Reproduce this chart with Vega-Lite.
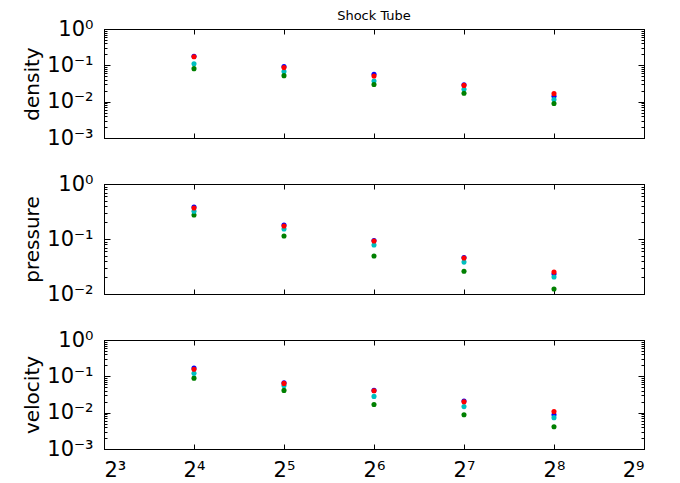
{
  "$schema": "https://vega.github.io/schema/vega-lite/v6.json",
  "background": "white",
  "padding": {"left": 22, "top": 9, "right": 5, "bottom": 0},
  "config": {
    "font": "DejaVu Sans",
    "view": {"stroke": "black", "strokeWidth": 1},
    "axis": {"domainColor": "black", "tickColor": "black", "labelColor": "black", "titleColor": "black", "grid": false, "labelFont": "DejaVu Sans", "titleFont": "DejaVu Sans"}
  },
  "datasets": {
    "pts": [
      {"panel": "density", "n": 16, "s": "b", "v": 0.178},
      {"panel": "density", "n": 16, "s": "g", "v": 0.081},
      {"panel": "density", "n": 16, "s": "c", "v": 0.111},
      {"panel": "density", "n": 16, "s": "r", "v": 0.173},
      {"panel": "density", "n": 32, "s": "b", "v": 0.093},
      {"panel": "density", "n": 32, "s": "g", "v": 0.052},
      {"panel": "density", "n": 32, "s": "c", "v": 0.0676},
      {"panel": "density", "n": 32, "s": "r", "v": 0.0865},
      {"panel": "density", "n": 64, "s": "b", "v": 0.057},
      {"panel": "density", "n": 64, "s": "g", "v": 0.0298},
      {"panel": "density", "n": 64, "s": "c", "v": 0.037},
      {"panel": "density", "n": 64, "s": "r", "v": 0.051},
      {"panel": "density", "n": 128, "s": "b", "v": 0.029},
      {"panel": "density", "n": 128, "s": "g", "v": 0.017},
      {"panel": "density", "n": 128, "s": "c", "v": 0.0218},
      {"panel": "density", "n": 128, "s": "r", "v": 0.028},
      {"panel": "density", "n": 256, "s": "b", "v": 0.014},
      {"panel": "density", "n": 256, "s": "g", "v": 0.0089},
      {"panel": "density", "n": 256, "s": "c", "v": 0.0114},
      {"panel": "density", "n": 256, "s": "r", "v": 0.0166},
      {"panel": "pressure", "n": 16, "s": "b", "v": 0.38},
      {"panel": "pressure", "n": 16, "s": "g", "v": 0.273},
      {"panel": "pressure", "n": 16, "s": "c", "v": 0.32},
      {"panel": "pressure", "n": 16, "s": "r", "v": 0.366},
      {"panel": "pressure", "n": 32, "s": "b", "v": 0.18},
      {"panel": "pressure", "n": 32, "s": "g", "v": 0.1135},
      {"panel": "pressure", "n": 32, "s": "c", "v": 0.152},
      {"panel": "pressure", "n": 32, "s": "r", "v": 0.172},
      {"panel": "pressure", "n": 64, "s": "b", "v": 0.094},
      {"panel": "pressure", "n": 64, "s": "g", "v": 0.049},
      {"panel": "pressure", "n": 64, "s": "c", "v": 0.078},
      {"panel": "pressure", "n": 64, "s": "r", "v": 0.092},
      {"panel": "pressure", "n": 128, "s": "b", "v": 0.046},
      {"panel": "pressure", "n": 128, "s": "g", "v": 0.026},
      {"panel": "pressure", "n": 128, "s": "c", "v": 0.038},
      {"panel": "pressure", "n": 128, "s": "r", "v": 0.045},
      {"panel": "pressure", "n": 256, "s": "b", "v": 0.023},
      {"panel": "pressure", "n": 256, "s": "g", "v": 0.0123},
      {"panel": "pressure", "n": 256, "s": "c", "v": 0.0204},
      {"panel": "pressure", "n": 256, "s": "r", "v": 0.025},
      {"panel": "velocity", "n": 16, "s": "b", "v": 0.17},
      {"panel": "velocity", "n": 16, "s": "g", "v": 0.089},
      {"panel": "velocity", "n": 16, "s": "c", "v": 0.121},
      {"panel": "velocity", "n": 16, "s": "r", "v": 0.156},
      {"panel": "velocity", "n": 32, "s": "b", "v": 0.066},
      {"panel": "velocity", "n": 32, "s": "g", "v": 0.041},
      {"panel": "velocity", "n": 32, "s": "c", "v": 0.056},
      {"panel": "velocity", "n": 32, "s": "r", "v": 0.064},
      {"panel": "velocity", "n": 64, "s": "b", "v": 0.041},
      {"panel": "velocity", "n": 64, "s": "g", "v": 0.0167},
      {"panel": "velocity", "n": 64, "s": "c", "v": 0.028},
      {"panel": "velocity", "n": 64, "s": "r", "v": 0.040},
      {"panel": "velocity", "n": 128, "s": "b", "v": 0.021},
      {"panel": "velocity", "n": 128, "s": "g", "v": 0.0088},
      {"panel": "velocity", "n": 128, "s": "c", "v": 0.0147},
      {"panel": "velocity", "n": 128, "s": "r", "v": 0.020},
      {"panel": "velocity", "n": 256, "s": "b", "v": 0.0088},
      {"panel": "velocity", "n": 256, "s": "g", "v": 0.0041},
      {"panel": "velocity", "n": 256, "s": "c", "v": 0.0073},
      {"panel": "velocity", "n": 256, "s": "r", "v": 0.0107}
    ]
  },
  "spacing": 23,
  "vconcat": [
    {
      "width": 540, "height": 109,
      "title": {"text": "Shock Tube", "fontSize": 13, "fontWeight": "normal", "font": "DejaVu Sans", "offset": -5},
      "data": {"name": "pts"},
      "transform": [{"filter": "datum.panel == 'density'"}],
      "resolve": {"axis": {"x": "independent", "y": "independent"}},
      "layer": [
        {
          "mark": {"type": "point", "filled": true, "size": 26, "opacity": 1},
          "encoding": {
            "x": {"field": "n", "type": "quantitative", "scale": {"type": "log", "base": 2, "domain": [8, 512], "nice": false},
                  "axis": {"values": [8, 16, 32, 64, 128, 256, 512], "labels": false, "title": null, "tickSize": -5}},
            "y": {"field": "v", "type": "quantitative", "scale": {"type": "log", "domain": [0.001, 1], "nice": false},
                  "axis": {"values": [0.001, 0.01, 0.1, 1], "title": "density", "titleFontSize": 20, "titleFontWeight": "normal", "titlePadding": 4, "labelFontSize": 21, "tickSize": -6, "labelPadding": 17,
                           "labelExpr": "datum.value >= 1 ? '10⁰' : datum.value >= 0.1 ? '10⁻¹' : datum.value >= 0.01 ? '10⁻²' : '10⁻³'"}},
            "color": {"field": "s", "type": "nominal", "legend": null, "scale": {"domain": ["b", "g", "c", "r"], "range": ["#0000ff", "#008000", "#00bfbf", "#ff0000"]}},
            "order": {"field": "s", "sort": "ascending"}
          }
        },
        {
          "mark": {"type": "point", "opacity": 0},
          "encoding": {
            "x": {"field": "n", "type": "quantitative", "axis": {"orient": "top", "values": [8, 16, 32, 64, 128, 256, 512], "labels": false, "title": null, "tickSize": -5}},
            "y": {"field": "v", "type": "quantitative", "axis": {"orient": "right", "values": [0.001, 0.01, 0.1, 1], "labels": false, "title": null, "tickSize": -6}}
          }
        },
        {
          "mark": {"type": "point", "opacity": 0},
          "encoding": {
            "x": {"field": "n", "type": "quantitative", "axis": null},
            "y": {"field": "v", "type": "quantitative", "axis": {"orient": "left", "values": [0.002, 0.003, 0.004, 0.005, 0.006, 0.007, 0.008, 0.009, 0.02, 0.03, 0.04, 0.05, 0.06, 0.07, 0.08, 0.09, 0.2, 0.3, 0.4, 0.5, 0.6, 0.7, 0.8, 0.9], "labels": false, "domain": false, "title": null, "tickSize": -3}}
          }
        },
        {
          "mark": {"type": "point", "opacity": 0},
          "encoding": {
            "x": {"field": "n", "type": "quantitative", "axis": null},
            "y": {"field": "v", "type": "quantitative", "axis": {"orient": "right", "values": [0.002, 0.003, 0.004, 0.005, 0.006, 0.007, 0.008, 0.009, 0.02, 0.03, 0.04, 0.05, 0.06, 0.07, 0.08, 0.09, 0.2, 0.3, 0.4, 0.5, 0.6, 0.7, 0.8, 0.9], "labels": false, "domain": false, "title": null, "tickSize": -3}}
          }
        }
      ]
    },
    {
      "width": 540, "height": 110,
      "data": {"name": "pts"},
      "transform": [{"filter": "datum.panel == 'pressure'"}],
      "resolve": {"axis": {"x": "independent", "y": "independent"}},
      "layer": [
        {
          "mark": {"type": "point", "filled": true, "size": 26, "opacity": 1},
          "encoding": {
            "x": {"field": "n", "type": "quantitative", "scale": {"type": "log", "base": 2, "domain": [8, 512], "nice": false},
                  "axis": {"values": [8, 16, 32, 64, 128, 256, 512], "labels": false, "title": null, "tickSize": -5}},
            "y": {"field": "v", "type": "quantitative", "scale": {"type": "log", "domain": [0.01, 1], "nice": false},
                  "axis": {"values": [0.01, 0.1, 1], "title": "pressure", "titleFontSize": 20, "titleFontWeight": "normal", "titlePadding": 4, "labelFontSize": 21, "tickSize": -6, "labelPadding": 17,
                           "labelExpr": "datum.value >= 1 ? '10⁰' : datum.value >= 0.1 ? '10⁻¹' : datum.value >= 0.01 ? '10⁻²' : '10⁻³'"}},
            "color": {"field": "s", "type": "nominal", "legend": null, "scale": {"domain": ["b", "g", "c", "r"], "range": ["#0000ff", "#008000", "#00bfbf", "#ff0000"]}}
          }
        },
        {
          "mark": {"type": "point", "opacity": 0},
          "encoding": {
            "x": {"field": "n", "type": "quantitative", "axis": {"orient": "top", "values": [8, 16, 32, 64, 128, 256, 512], "labels": false, "title": null, "tickSize": -5}},
            "y": {"field": "v", "type": "quantitative", "axis": {"orient": "right", "values": [0.01, 0.1, 1], "labels": false, "title": null, "tickSize": -6}}
          }
        },
        {
          "mark": {"type": "point", "opacity": 0},
          "encoding": {
            "x": {"field": "n", "type": "quantitative", "axis": null},
            "y": {"field": "v", "type": "quantitative", "axis": {"orient": "left", "values": [0.02, 0.03, 0.04, 0.05, 0.06, 0.07, 0.08, 0.09, 0.2, 0.3, 0.4, 0.5, 0.6, 0.7, 0.8, 0.9], "labels": false, "domain": false, "title": null, "tickSize": -3}}
          }
        },
        {
          "mark": {"type": "point", "opacity": 0},
          "encoding": {
            "x": {"field": "n", "type": "quantitative", "axis": null},
            "y": {"field": "v", "type": "quantitative", "axis": {"orient": "right", "values": [0.02, 0.03, 0.04, 0.05, 0.06, 0.07, 0.08, 0.09, 0.2, 0.3, 0.4, 0.5, 0.6, 0.7, 0.8, 0.9], "labels": false, "domain": false, "title": null, "tickSize": -3}}
          }
        }
      ]
    },
    {
      "width": 540, "height": 109,
      "data": {"name": "pts"},
      "transform": [{"filter": "datum.panel == 'velocity'"}],
      "resolve": {"axis": {"x": "independent", "y": "independent"}},
      "layer": [
        {
          "mark": {"type": "point", "filled": true, "size": 26, "opacity": 1},
          "encoding": {
            "x": {"field": "n", "type": "quantitative", "scale": {"type": "log", "base": 2, "domain": [8, 512], "nice": false},
                  "axis": {"values": [8, 16, 32, 64, 128, 256, 512], "title": null, "tickSize": -5, "labelFontSize": 21, "labelPadding": 15,
                           "labelExpr": "'2' + (datum.value == 8 ? '³' : datum.value == 16 ? '⁴' : datum.value == 32 ? '⁵' : datum.value == 64 ? '⁶' : datum.value == 128 ? '⁷' : datum.value == 256 ? '⁸' : '⁹')"}},
            "y": {"field": "v", "type": "quantitative", "scale": {"type": "log", "domain": [0.001, 1], "nice": false},
                  "axis": {"values": [0.001, 0.01, 0.1, 1], "title": "velocity", "titleFontSize": 20, "titleFontWeight": "normal", "titlePadding": 4, "labelFontSize": 21, "tickSize": -6, "labelPadding": 17,
                           "labelExpr": "datum.value >= 1 ? '10⁰' : datum.value >= 0.1 ? '10⁻¹' : datum.value >= 0.01 ? '10⁻²' : '10⁻³'"}},
            "color": {"field": "s", "type": "nominal", "legend": null, "scale": {"domain": ["b", "g", "c", "r"], "range": ["#0000ff", "#008000", "#00bfbf", "#ff0000"]}}
          }
        },
        {
          "mark": {"type": "point", "opacity": 0},
          "encoding": {
            "x": {"field": "n", "type": "quantitative", "axis": {"orient": "top", "values": [8, 16, 32, 64, 128, 256, 512], "labels": false, "title": null, "tickSize": -5}},
            "y": {"field": "v", "type": "quantitative", "axis": {"orient": "right", "values": [0.001, 0.01, 0.1, 1], "labels": false, "title": null, "tickSize": -6}}
          }
        },
        {
          "mark": {"type": "point", "opacity": 0},
          "encoding": {
            "x": {"field": "n", "type": "quantitative", "axis": null},
            "y": {"field": "v", "type": "quantitative", "axis": {"orient": "left", "values": [0.002, 0.003, 0.004, 0.005, 0.006, 0.007, 0.008, 0.009, 0.02, 0.03, 0.04, 0.05, 0.06, 0.07, 0.08, 0.09, 0.2, 0.3, 0.4, 0.5, 0.6, 0.7, 0.8, 0.9], "labels": false, "domain": false, "title": null, "tickSize": -3}}
          }
        },
        {
          "mark": {"type": "point", "opacity": 0},
          "encoding": {
            "x": {"field": "n", "type": "quantitative", "axis": null},
            "y": {"field": "v", "type": "quantitative", "axis": {"orient": "right", "values": [0.002, 0.003, 0.004, 0.005, 0.006, 0.007, 0.008, 0.009, 0.02, 0.03, 0.04, 0.05, 0.06, 0.07, 0.08, 0.09, 0.2, 0.3, 0.4, 0.5, 0.6, 0.7, 0.8, 0.9], "labels": false, "domain": false, "title": null, "tickSize": -3}}
          }
        }
      ]
    }
  ]
}
